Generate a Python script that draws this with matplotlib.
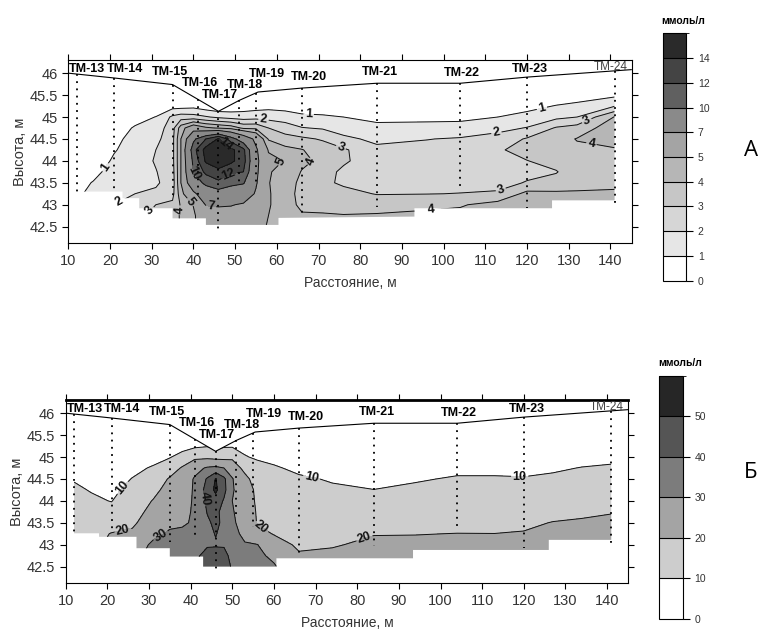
import numpy as np
import matplotlib
matplotlib.use("Agg")
import matplotlib.pyplot as plt
from matplotlib.colors import ListedColormap, BoundaryNorm
from matplotlib.cm import ScalarMappable
from matplotlib.patches import Polygon

plt.rcParams['font.family'] = ['Liberation Sans', 'DejaVu Sans']

# --- скважины ---
wells = ["ТМ-13", "ТМ-14", "ТМ-15", "ТМ-16", "ТМ-17", "ТМ-18",
         "ТМ-19", "ТМ-20", "ТМ-21", "ТМ-22", "ТМ-23", "ТМ-24"]
well_x = [12, 21, 35, 41, 46, 51, 55, 66, 84, 104, 120, 141]
well_bot_a = [43.25, 43.35, 43.2, 43.1, 42.42, 43.49, 43.4, 42.77, 42.95, 43.41, 42.92, 43.0]
well_bot_b = [43.26, 43.33, 43.06, 43.1, 42.38, 43.64, 43.41, 42.69, 42.96, 43.41, 42.92, 42.99]
lab_x = [14.6, 23.6, 34.4, 41.6, 46.4, 52.4, 57.6, 67.8, 84.8, 104.4, 120.8, 140.0]
lab_z = [46.1, 46.1, 46.02, 45.77, 45.5, 45.72, 45.97, 45.91, 46.02, 46.0, 46.1, 46.15]

# поверхность
surf_x = [10, 21, 35, 46, 51, 55.5, 66, 84, 104, 120, 145]
surf_z = [46.0, 45.89, 45.74, 45.13, 45.38, 45.57, 45.66, 45.77, 45.77, 45.91, 46.08]

# нижняя граница области
bot_a_x = [12, 23, 23, 27, 27, 35, 35, 43, 43, 60.4, 60.4, 93, 93, 126, 126, 141]
bot_a_z = [43.3, 43.3, 43.15, 43.15, 42.92, 42.92, 42.69, 42.69, 42.54, 42.54, 42.7, 42.73,
           42.92, 42.92, 43.1, 43.1]
bot_b_x = [12, 18, 18, 27, 27, 35, 35, 43, 43, 60.6, 60.6, 93.4, 93.4, 126, 126, 141]
bot_b_z = [43.26, 43.26, 43.18, 43.18, 42.92, 42.92, 42.73, 42.73, 42.5, 42.5, 42.69, 42.69,
           42.88, 42.88, 43.11, 43.11]

# сетка (профили по x, значения сверху вниз)
grid_z = [46.2, 45.5, 45.25, 45.0, 44.75, 44.5, 44.25, 44.0, 43.75, 43.5, 43.25, 43.0, 42.75, 42.5]

grid_x_a = [12, 16, 21, 26, 31, 35, 37, 40, 43, 46, 49, 52, 55, 58, 62, 66, 71, 76,
            84, 96, 104, 113, 120, 127, 132, 141]
conc_a = [
    [0, 0.3, 0.4, 0.5, 0.5, 0.5, 0.5, 0.5, 0.6, 0.7, 0.8, 0.8, 0.8, 0.8],
    [0, 0.3, 0.4, 0.5, 0.5, 0.55, 0.6, 0.6, 0.75, 1.05, 1.3, 1.4, 1.4, 1.4],
    [0, 0.3, 0.4, 0.5, 0.6, 0.85, 0.95, 1.1, 1.35, 1.5, 1.8, 2.0, 2.0, 2.0],
    [0, 0.3, 0.5, 0.7, 1.08, 1.2, 1.3, 1.4, 1.5, 1.7, 2.0, 2.5, 2.8, 2.8],
    [0, 0.3, 0.5, 1.02, 1.4, 1.7, 2.0, 2.1, 1.95, 1.85, 2.2, 3.0, 3.2, 3.2],
    [0, 0.3, 0.6, 2.2, 2.6, 2.7, 2.7, 2.7, 2.6, 2.5, 2.7, 3.2, 3.6, 3.6],
    [0, 0.2, 0.6, 2.5, 4.5, 5.0, 5.0, 5.0, 5.0, 5.0, 4.6, 4.1, 4.1, 4.1],
    [0, 0.2, 0.7, 2.4, 6.0, 9.5, 11.2, 10.5, 10.0, 8.8, 6.5, 5.05, 4.8, 4.8],
    [0, 0.2, 0.4, 2.1, 5.2, 12.0, 14.8, 14.3, 12.5, 10.5, 8.5, 7.1, 6.0, 5.8],
    [0, 0.1, 0.2, 1.8, 4.9, 14.2, 15.5, 15.2, 13.5, 11.5, 9.0, 7.2, 6.2, 6.0],
    [0, 0.1, 0.3, 1.6, 4.6, 11.0, 14.6, 14.5, 12.3, 10.5, 8.8, 7.1, 6.3, 6.0],
    [0, 0.1, 0.5, 1.5, 3.8, 8.5, 12.5, 12.8, 12.0, 10.2, 8.2, 6.8, 6.0, 5.8],
    [0, 0.1, 0.6, 1.6, 3.8, 6.5, 7.3, 7.5, 7.4, 7.2, 6.8, 6.0, 5.5, 5.4],
    [0, 0.1, 0.7, 1.6, 3.0, 3.9, 4.9, 5.3, 5.1, 5.05, 5.1, 5.1, 5.0, 4.9],
    [0, 0.1, 0.6, 1.5, 2.5, 3.4, 4.3, 4.95, 4.6, 4.4, 4.4, 4.4, 4.4, 4.3],
    [0, 0.1, 0.5, 1.2, 2.05, 3.2, 4.05, 4.2, 3.95, 3.8, 3.7, 3.8, 4.1, 4.1],
    [0, 0.1, 0.6, 1.1, 1.9, 2.9, 3.5, 3.8, 3.4, 3.2, 3.5, 3.7, 4.1, 4.1],
    [0, 0.1, 0.7, 1.0, 1.6, 2.2, 3.15, 3.15, 2.8, 2.85, 3.3, 3.6, 4.05, 4.05],
    [0, 0.2, 0.5, 0.8, 1.2, 1.8, 2.2, 2.4, 2.5, 2.7, 2.95, 3.6, 4.1, 4.1],
    [0, 0.2, 0.5, 0.8, 1.25, 1.97, 2.3, 2.4, 2.5, 2.7, 2.98, 3.7, 4.3, 4.3],
    [0, 0.2, 0.5, 0.8, 1.3, 2.1, 2.35, 2.45, 2.55, 2.75, 3.02, 3.9, 4.3, 4.3],
    [0, 0.3, 0.6, 1.0, 1.7, 2.4, 2.9, 2.8, 2.7, 2.75, 3.1, 4.4, 4.5, 4.5],
    [0, 0.3, 0.7, 1.3, 2.05, 3.1, 3.3, 2.98, 2.8, 3.05, 4.3, 4.5, 4.5, 4.5],
    [0, 0.4, 1.05, 1.75, 3.1, 3.6, 3.6, 3.3, 2.95, 3.3, 4.2, 4.4, 4.4, 4.4],
    [0, 0.5, 1.25, 2.0, 3.4, 4.05, 3.8, 3.6, 3.5, 3.6, 4.15, 4.4, 4.4, 4.4],
    [0, 0.8, 1.95, 4.05, 4.6, 4.4, 3.9, 3.7, 3.6, 3.7, 4.2, 4.4, 4.4, 4.4],
]

grid_x_b = [12, 16, 21, 26, 31, 35, 38, 41, 44, 46, 48, 50, 53, 56, 60, 66, 74,
            84, 94, 104, 113, 120, 127, 134, 141]
conc_b = [
    [0, 3, 5, 6, 7.5, 9.6, 11, 12, 13, 14, 15, 15, 15, 15],
    [0, 3, 5, 6, 7, 8.5, 9.7, 11, 12.5, 14, 16, 17, 17, 17],
    [0, 3, 5, 6, 6.5, 7.5, 8.5, 9.8, 12, 15, 20.5, 22, 22, 22],
    [0, 3, 5, 7, 8.5, 10.2, 12, 14, 16, 18.5, 21.5, 25, 27, 27],
    [0, 3, 6, 8, 10.6, 14, 17, 20.5, 23, 25, 28, 31.5, 33, 33],
    [0, 3, 6, 9.5, 15, 21, 24, 26, 27.5, 28.5, 31, 33, 34, 34],
    [0, 3, 7, 13, 21, 24, 26, 27, 28, 29, 31.5, 33, 34, 35],
    [0, 4, 8.5, 18, 27, 31, 31, 31, 31, 31, 33, 35, 38, 40.5],
    [0, 5, 9.5, 18, 31, 41, 44, 42, 40.5, 38.5, 37, 39, 43, 45],
    [0, 3, 7, 17, 32, 50.5, 52, 46, 43, 42, 40.5, 39, 44, 46],
    [0, 4, 9, 17, 30, 42, 43, 39, 36, 38, 37, 39, 43, 44],
    [0, 5, 9, 18, 26, 30.5, 30.5, 30, 30.5, 31, 32, 33, 37, 39],
    [0, 4, 8, 10.5, 17, 23, 27, 27, 27, 27.5, 28.5, 30.5, 32, 32],
    [0, 3, 6, 9, 12.5, 15, 17, 18, 19, 19.5, 23, 30.2, 32, 32],
    [0, 3, 5, 8, 10.8, 13, 14.5, 16, 17, 18, 19.5, 24, 28, 31],
    [0, 3, 5, 7, 8.5, 11, 12, 13, 14, 15, 16.5, 18.5, 21, 22],
    [0, 3, 5, 6.5, 8, 9.4, 11, 12.5, 14, 15.5, 17, 19.4, 21.5, 22],
    [0, 3, 4.5, 6, 7.5, 8.8, 10.05, 12, 14, 17, 19.7, 21.5, 22, 22],
    [0, 3, 5, 6.5, 8, 9.5, 11, 13, 15, 17.5, 19.8, 21.5, 22, 22],
    [0, 3, 5, 7, 8.8, 10.5, 12, 14, 16, 18, 20.1, 22, 22.5, 22.5],
    [0, 3, 5, 7, 8.8, 10.5, 12, 14, 16, 18, 20.05, 22, 22.5, 22.5],
    [0, 3, 5, 7, 8.8, 10.3, 12, 14, 16, 18.5, 20.5, 22.5, 23, 23],
    [0, 3, 5, 7.5, 9.2, 11, 13, 15, 17.5, 20.3, 22, 23, 23, 23],
    [0, 3, 6, 8, 10.2, 12, 14, 16, 18.5, 21, 23, 24, 24, 24],
    [0, 4, 6.5, 8.5, 10.8, 12.5, 14.5, 17, 19.5, 22, 24, 25, 25, 25],
]

levels_a = [0, 1, 2, 3, 4, 5, 7, 10, 12, 14, 16]
colors_a = ["#ffffff", "#e6e6e6", "#d6d6d6", "#c6c6c6", "#b6b6b6", "#a4a4a4",
            "#8a8a8a", "#606060", "#444444", "#2a2a2a"]
levels_b = [0, 10, 20, 30, 40, 50, 60]
colors_b = ["#ffffff", "#cdcdcd", "#a4a4a4", "#7c7c7c", "#555555", "#262626"]

# подписи изолиний (x, z)
clab_a = [(18.8, 43.86), (67.6, 45.0), (123.6, 45.19),
          (22.0, 43.1), (56.8, 44.93), (112.6, 44.68),
          (28.2, 42.98), (75.6, 44.36), (134.2, 44.94), (113.6, 43.37),
          (35.6, 42.88), (68.8, 43.94), (135.4, 44.37), (97.0, 42.92),
          (39.4, 43.07), (61.6, 43.94), (44.2, 42.96),
          (40.0, 43.71), (48.4, 43.71), (46.0, 44.2)]
clab_b = [(23.8, 44.29), (69.0, 44.52), (119.0, 44.52),
          (23.8, 43.3), (57.0, 43.41), (81.8, 43.13),
          (32.6, 43.24), (43.6, 44.06)]

fig = plt.figure(figsize=(7.63, 6.39), dpi=100)
ax_a = fig.add_axes([0.0895, 0.6192, 0.7384, 0.2869])
ax_b = fig.add_axes([0.0861, 0.0872, 0.7374, 0.2868])
cax_a = fig.add_axes([0.8686, 0.5607, 0.0305, 0.3872])
cax_b = fig.add_axes([0.8641, 0.0313, 0.0306, 0.3803])


def draw_panel(ax, cax, gx, conc, levels, colors, bx, bz, wbot, clabs, letter, letter_y):
    X, Y = np.meshgrid(gx, grid_z)
    Z = np.array(conc).T

    # область разреза
    top_x = [12] + [s for s in surf_x if 12 < s < 141] + [141]
    top_z = np.interp(top_x, surf_x, surf_z)
    poly = list(zip(top_x, top_z)) + list(zip(bx[::-1], bz[::-1]))
    clip = Polygon(poly, closed=True, facecolor="none", edgecolor="none")
    ax.add_patch(clip)

    cf = ax.contourf(X, Y, Z, levels=levels, colors=colors)
    cf.set_clip_path(clip)
    cl = ax.contour(X, Y, Z, levels=levels[1:-1], colors="#111111", linewidths=0.7)
    cl.set_clip_path(clip)
    ax.clabel(cl, manual=clabs, inline=True, fmt="%g", fontsize=9, inline_spacing=2)
    for t in cl.labelTexts:
        t.set_fontweight("bold")

    # поверхность и скважины
    ax.plot(surf_x, surf_z, color="black", lw=0.8)
    wtop = np.interp(well_x, surf_x, surf_z)
    for wx, wt, wb in zip(well_x, wtop, wbot):
        ax.plot([wx, wx], [wt, wb], color="black", lw=1.3, ls=(0, (1, 3)))
    for i, (name, lx, lz) in enumerate(zip(wells, lab_x, lab_z)):
        if i == len(wells) - 1:
            ax.text(lx, lz, name, ha="center", va="center", fontsize=8.5, color="#444444")
        else:
            ax.text(lx, lz, name, ha="center", va="center", fontsize=9, fontweight="bold")

    ax.set_xlim(10, 145.1)
    ax.set_ylim(42.12, 46.3)
    ax.set_xticks(range(10, 141, 10))
    ax.set_yticks(np.arange(42.5, 46.01, 0.5))
    ax.yaxis.set_major_formatter(matplotlib.ticker.FormatStrFormatter("%g"))
    ax.tick_params(direction="out", top=True, right=True, length=4, width=0.8,
                   labelsize=10.5, labelcolor="#333333")
    ax.set_xlabel("Расстояние, м", fontsize=10, color="#333333", labelpad=6)
    ax.set_ylabel("Высота, м", fontsize=10.5, color="#333333", labelpad=2)
    for sp in ax.spines.values():
        sp.set_linewidth(0.8)

    # шкала
    cmap = ListedColormap(colors)
    norm = BoundaryNorm(levels, cmap.N)
    cb = fig.colorbar(ScalarMappable(norm=norm, cmap=cmap), cax=cax, drawedges=True,
                      ticks=levels[:-1], spacing="uniform")
    cb.outline.set_linewidth(0.8)
    cb.dividers.set_linewidth(0.8)
    cb.ax.tick_params(length=5, width=0.8, labelsize=7.5, labelcolor="#333333")
    cb.ax.set_yticklabels([f"{v:g}" for v in levels[:-1]])
    pos = cax.get_position()
    fig.text(pos.x0 + pos.width / 2 + 0.012, pos.y1 + 0.02, "ммоль/л", ha="center",
             va="center", fontsize=7.5, fontweight="bold")
    fig.text(0.984, letter_y, letter, ha="center", va="center", fontsize=16,
             family=["Open Sans", "DejaVu Sans"])


draw_panel(ax_a, cax_a, grid_x_a, conc_a, levels_a, colors_a, bot_a_x, bot_a_z,
           well_bot_a, clab_a, "А", 0.765)
draw_panel(ax_b, cax_b, grid_x_b, conc_b, levels_b, colors_b, bot_b_x, bot_b_z,
           well_bot_b, clab_b, "Б", 0.26)
ax_b.spines["top"].set_linewidth(2)

plt.savefig("out.png", dpi=100)
plt.close()
